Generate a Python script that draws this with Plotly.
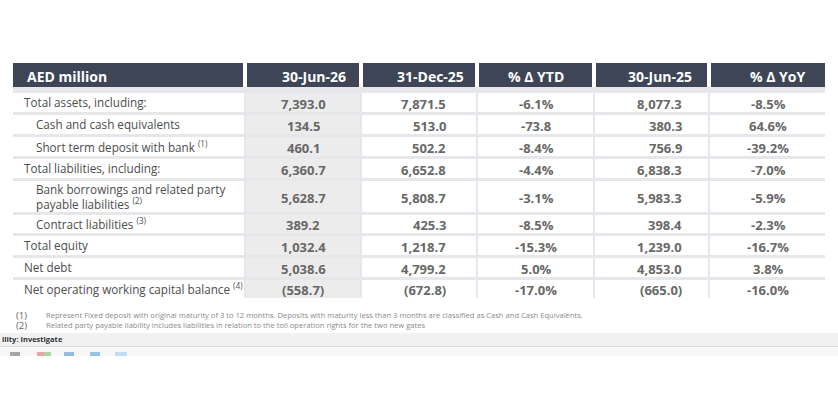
import plotly.graph_objects as go

# table content
header = ['AED million', '30-Jun-26', '31-Dec-25', '% Δ YTD', '30-Jun-25', '% Δ YoY']

labels = [
    'Total assets, including:',
    'Cash and cash equivalents',
    'Short term deposit with bank <sup>(1)</sup>',
    'Total liabilities, including:',
    'Bank borrowings and related party<br>payable liabilities <sup>(2)</sup>',
    'Contract liabilities <sup>(3)</sup>',
    'Total equity',
    'Net debt',
    'Net operating working capital balance <sup>(4)</sup>',
]
jun26 = ['7,393.0', '134.5', '460.1', '6,360.7', '5,628.7', '389.2', '1,032.4', '5,038.6', '(558.7)']
dec25 = ['7,871.5', '513.0', '502.2', '6,652.8', '5,808.7', '425.3', '1,218.7', '4,799.2', '(672.8)']
ytd = ['-6.1%', '-73.8', '-8.4%', '-4.4%', '-3.1%', '-8.5%', '-15.3%', '5.0%', '-17.0%']
jun25 = ['8,077.3', '380.3', '756.9', '6,838.3', '5,983.3', '398.4', '1,239.0', '4,853.0', '(665.0)']
yoy = ['-8.5%', '64.6%', '-39.2%', '-7.0%', '-5.9%', '-2.3%', '-16.7%', '3.8%', '-16.0%']

notes = [
    ('(1)', 'Represent Fixed deposit with original maturity of 3 to 12 months. Deposits with maturity less than 3 months are classified as Cash and Cash Equivalents.'),
    ('(2)', 'Related party payable liability includes liabilities in relation to the toll operation rights for the two new gates'),
]

# layout / style
indent = [0, 1, 1, 0, 1, 1, 0, 0, 0]
row_h = [19, 19, 19, 19, 31, 18, 19, 19, 18]
sep = 3
col_edges = [(13, 243), (247, 359), (363, 475), (479, 592), (596, 707), (711, 825)]
head_x = [25, 314, 430, 536, 660, 778]
val_x = [303, 448, 536, 684, 768]
val_anchor = ['center', 'right', 'center', 'right', 'center']

HEAD = '#3d4556'
SEP = '#e6e7ea'
GREYCELL = '#ececec'
TXT = '#4d4d4d'
VAL = '#686868'
FONT = 'Open Sans'

fig = go.Figure()
shapes = []
ann = []

# header
for (x0, x1), h, hx in zip(col_edges, header, head_x):
    shapes.append(dict(type='rect', x0=x0, x1=x1, y0=63, y1=87, fillcolor=HEAD, line_width=0, layer='below'))
    ann.append(dict(x=hx, y=76, text=h, xanchor='left' if hx == head_x[0] else 'center',
                    font=dict(family=FONT, size=14, color='white', weight='bold')))

# body background (separators)
row_tops = []
y = 93
for h in row_h:
    row_tops.append(y)
    y += h + sep
body_bottom = row_tops[-1] + row_h[-1]
shapes.append(dict(type='rect', x0=13, x1=825, y0=87, y1=body_bottom, fillcolor=SEP, line_width=0, layer='below'))

columns = [jun26, dec25, ytd, jun25, yoy]
for i, (top, h) in enumerate(zip(row_tops, row_h)):
    yc = top + h / 2
    for j, (x0, x1) in enumerate(col_edges):
        fill = GREYCELL if j == 1 else 'white'
        shapes.append(dict(type='rect', x0=x0 - 1, x1=x1 + 1 if j < 5 else x1, y0=top, y1=top + h,
                           fillcolor=fill, line_width=0, layer='below'))
    ann.append(dict(x=22 + 12 * indent[i], y=yc - 0.5, text=labels[i], xanchor='left', align='left',
                    font=dict(family=FONT, size=11.7, color=TXT)))
    for j, col in enumerate(columns):
        ann.append(dict(x=val_x[j], y=yc + 1, text=col[i], xanchor=val_anchor[j],
                        font=dict(family=FONT, size=13, color=VAL, weight='bold')))

# footnotes
for k, (num, txt) in enumerate(notes):
    yy = 315 + 10 * k
    ann.append(dict(x=14, y=yy, text=num, xanchor='left', font=dict(family=FONT, size=9.5, color='#666666')))
    ann.append(dict(x=44, y=yy, text=txt, xanchor='left', font=dict(family=FONT, size=7.6, color='#8a8a8a')))

# screenshot status bar / taskbar remnants
shapes.append(dict(type='rect', x0=0, x1=838, y0=333, y1=346, fillcolor='#f1f1f1', line_width=0, layer='below'))
shapes.append(dict(type='rect', x0=0, x1=838, y0=346, y1=347, fillcolor='#dcdcdc', line_width=0, layer='below'))
shapes.append(dict(type='rect', x0=0, x1=838, y0=347, y1=356, fillcolor='#f7f7f7', line_width=0, layer='below'))
icon_cols = ['#555555', '#d9534f', '#5cb85c', '#2f7fd0', '#3a8fd8', '#8cc4ec']
icon_x = [(10, 20), (37, 44), (44, 51), (64, 74), (90, 100), (115, 127)]
for (a, b), c in zip(icon_x, icon_cols):
    shapes.append(dict(type='rect', x0=a, x1=b, y0=352, y1=356, fillcolor=c, opacity=0.5, line_width=0))
ann.append(dict(x=0, y=338.5, text='ility: Investigate', xanchor='left',
                font=dict(family=FONT, size=7.5, color='#333333', weight='bold')))

fig.update_layout(
    width=838, height=412,
    margin=dict(l=0, r=0, t=0, b=0),
    paper_bgcolor='white', plot_bgcolor='white',
    xaxis=dict(range=[0, 838], visible=False, fixedrange=True),
    yaxis=dict(range=[412, 0], visible=False, fixedrange=True),
    shapes=shapes,
    annotations=[dict(a, xref='x', yref='y', showarrow=False, yanchor='middle') for a in ann],
    showlegend=False,
)

# drop the browser's default 8px body margin so page pixels == axis units
fig.write_html("out.html", config={'displayModeBar': False},
               post_script="document.body.style.margin='0';")
